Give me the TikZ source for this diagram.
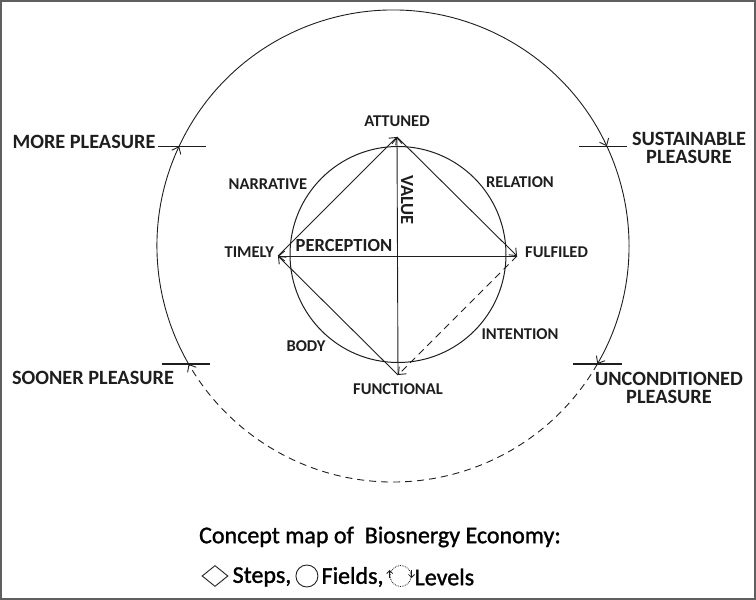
\documentclass[tikz,border=0pt]{standalone}
\usepackage{fontspec}
\setmainfont{Carlito}
\newfontfamily\capfont[FakeBold=1.3]{Carlito}
\usepackage{tikz}
\usetikzlibrary{arrows.meta,positioning,calc,shapes.geometric}
\definecolor{ink}{RGB}{30,30,30}
\definecolor{rim}{RGB}{95,95,95}
\tikzset{
  lbl/.style={font=\fontsize{16.5}{18}\selectfont\bfseries,inner sep=1pt,text=ink},
  blbl/.style={font=\fontsize{18.5}{20}\selectfont\bfseries,inner sep=1pt,text=ink},
  olbl/.style={font=\fontsize{20.3}{18.5}\selectfont\bfseries,inner sep=1pt,align=center,text=ink},
  captxt/.style={font=\capfont\fontsize{24}{28}\selectfont,inner sep=1pt,text=black},
  ring/.style={draw=ink,line width=1pt},
  arr/.style={-{Straight Barb[length=6pt,width=10pt]},line width=0.9pt,ink},
  dashd/.style={dash pattern=on 7pt off 5pt},
  tick/.style={line width=1.2pt,ink},
}

\begin{document}
\begin{tikzpicture}[x=1pt,y=1pt,node distance=3pt]
  \useasboundingbox (0,0) rectangle (756,600);
  \draw[rim,line width=2pt] (1,1) rectangle (755,599);

  % centres
  \coordinate (O) at (393,354);
  \coordinate (I) at (398,345.5);

  % outer circle, crossings
  \coordinate (mp)  at ($(O)+(155:236)$);
  \coordinate (sus) at ($(O)+(25:236)$);
  \coordinate (unc) at ($(O)+(-30:236)$);
  \coordinate (soo) at ($(O)+(210:236)$);
  \draw[arr] (soo) arc[start angle=210,end angle=155,radius=236];
  \draw[arr] (mp) arc[start angle=155,end angle=25,radius=236];
  \draw[arr] (sus) arc[start angle=25,end angle=-30,radius=236];
  \draw[arr,dashd] (unc) arc[start angle=-30,end angle=-150,radius=236];
  \draw[tick] ($(mp)+(-21,0)$) -- ($(mp)+(27,0)$);
  \draw[tick] ($(sus)+(-28,0)$) -- ($(sus)+(20,0)$);
  \draw[tick] ($(soo)+(-27,0)$) -- ($(soo)+(21,0)$);
  \draw[tick] ($(unc)+(-24,0)$) -- ($(unc)+(25,0)$);

  \node[olbl] (mpl) at (84,458) {MORE PLEASURE};
  \node[olbl] (susl) at (689,452) {SUSTAINABLE\\PLEASURE};
  \node[olbl] (sool) at (93,222) {SOONER PLEASURE};
  \node[olbl] (uncl) at (669,212) {UNCONDITIONED\\PLEASURE};

  % inner circle and steps
  \draw[ring] (I) circle[radius=108];
  \coordinate (att) at (397,463);
  \coordinate (tim) at (278,344);
  \coordinate (ful) at (517,344);
  \coordinate (fun) at (398,225);

  \draw[arr] (fun) -- (att);
  \draw[arr,{Straight Barb[length=6pt,width=10pt]}-] (tim) -- (ful);
  \draw[arr] (tim) -- (att);
  \draw[arr] (att) -- (ful);
  \draw[arr,dashd] (ful) -- (fun);
  \draw[arr] (fun) -- (tim);

  \node[lbl,above=9pt of att] (attl) {ATTUNED};
  \node[lbl,left=3pt of tim,yshift=4pt] (timl) {TIMELY};
  \node[lbl,right=7pt of ful,yshift=4pt] (full) {FULFILED};
  \node[lbl,below=7pt of fun] (funl) {FUNCTIONAL};
  \node[blbl] (per) at (344,354) {PERCEPTION};
  \node[blbl,rotate=-90] (val) at (407,400) {VALUE};
  \node[lbl] (nar) at (268,416) {NARRATIVE};
  \node[lbl] (rel) at (520,418) {RELATION};
  \node[lbl] (bod) at (306,254) {BODY};
  \node[lbl] (int) at (520,266) {INTENTION};

  % caption
  \node[captxt] (cap1) at (380,63) {Concept map of\ \ Biosnergy Economy:};
  \node[diamond,draw=ink,line width=0.9pt,minimum width=26pt,minimum height=21pt,inner sep=0pt] (dia) at (215,24) {};
  \node[captxt,right=3pt of dia,yshift=-1pt] (stp) {Steps,};
  \node[circle,draw=ink,line width=0.9pt,minimum size=22pt,inner sep=0pt,right=3pt of stp,yshift=1pt] (fld) {};
  \node[captxt,right=2pt of fld,yshift=-1pt] (fls) {Fields,};
  \node[circle,draw=ink,densely dotted,line width=0.8pt,minimum size=21pt,inner sep=0pt,right=5pt of fls,yshift=1pt] (lev) {};
  \draw[-{Straight Barb[length=3pt,width=6pt]},line width=0.8pt,ink] ($(lev.west)+(0,-2)$) -- ($(lev.west)+(0,6)$);
  \draw[-{Straight Barb[length=3pt,width=6pt]},line width=0.8pt,ink] ($(lev.east)+(0,6)$) -- ($(lev.east)+(0,-2)$);
  \node[captxt,right=2pt of lev,yshift=-1pt] (lvl) {Levels};
\end{tikzpicture}
\end{document}
